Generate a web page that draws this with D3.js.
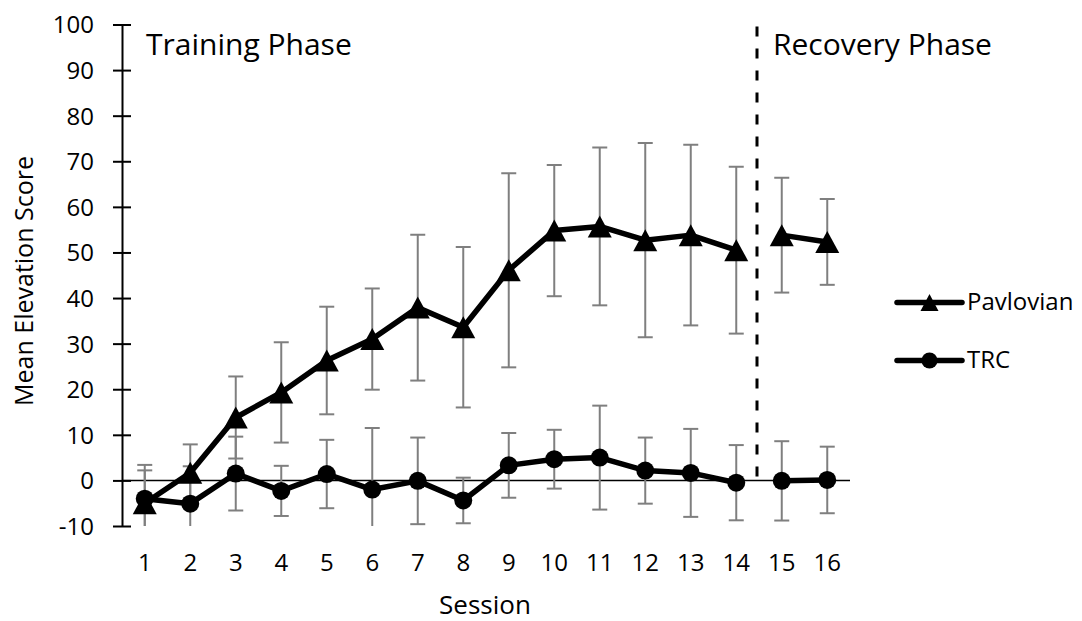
<!DOCTYPE html>
<html>
<head>
<meta charset="utf-8">
<script src="https://cdn.jsdelivr.net/npm/d3@7"></script>
<style>
  body { margin: 0; background: #fff; }
  text { font-family: "Open Sans", sans-serif; fill: #000; }
</style>
</head>
<body>
<div class="chart"></div>
<script>
// values
const sessions = ["1","2","3","4","5","6","7","8","9","10","11","12","13","14","15","16"];
const pavMean = [-5, 1.7, 13.8, 19.3, 26.3, 31, 37.9, 33.6, 46.1, 54.8, 55.7, 52.7, 53.8, 50.5, 53.8, 52.3];
const pavErr  = [7.2, 6.2, 9.0, 11, 11.8, 11.1, 16, 17.6, 21.3, 14.4, 17.3, 21.3, 19.8, 18.3, 12.6, 9.4];
const trcMean = [-4, -5.1, 1.5, -2.3, 1.4, -2, -0.1, -4.4, 3.3, 4.65, 5.0, 2.15, 1.65, -0.5, -0.1, 0.1];
const trcErr  = [7.4, 8.2, 8.1, 5.5, 7.5, 13.5, 9.5, 5.0, 7.1, 6.45, 11.4, 7.25, 9.65, 8.25, 8.7, 7.3];
const yTicks = [-10, 0, 10, 20, 30, 40, 50, 60, 70, 80, 90, 100];
const lastTraining = "14";
const seriesNames = ["Pavlovian", "TRC"];

let width = 1082, height = 621;

let svg = d3.select(".chart").append("svg")
  .attr("width", width)
  .attr("height", height);

let x = d3.scaleBand()
  .domain(sessions)
  .range([122, 850])
  .padding(0);

let y = d3.scaleLinear()
  .domain([-10, 100])
  .range([526, 24.5]);

const cx = s => x(s) + x.bandwidth() / 2;

svg.append("clipPath").attr("id", "plot")
  .append("rect")
  .attr("x", 100).attr("y", y(100))
  .attr("width", 760).attr("height", y(-10) - y(100));

// zero line (x axis)
svg.append("line")
  .attr("x1", x.range()[0]).attr("x2", x.range()[1])
  .attr("y1", y(0)).attr("y2", y(0))
  .attr("stroke", "#000").attr("stroke-width", 1.5);

// y axis with crossing ticks
let yAxis = svg.append("g")
  .attr("transform", "translate(122,0)")
  .call(d3.axisLeft(y).tickValues(yTicks).tickFormat(d => String(d)).tickSize(0).tickPadding(28));
yAxis.select(".domain").attr("stroke", "#000").attr("stroke-width", 2);
yAxis.selectAll("text").style("font-size", "24px").attr("dy", "0.35em");
yAxis.selectAll(".tick").append("line")
  .attr("x1", -9).attr("x2", 9)
  .attr("stroke", "#000").attr("stroke-width", 2);

// x tick labels
svg.append("g")
  .selectAll("text")
  .data(sessions)
  .join("text")
  .attr("x", d => cx(d))
  .attr("y", 571)
  .attr("text-anchor", "middle")
  .style("font-size", "24px")
  .text(d => d);

svg.append("text")
  .attr("x", 485).attr("y", 614)
  .attr("text-anchor", "middle")
  .style("font-size", "26px")
  .text("Session");

svg.append("text")
  .attr("transform", "translate(33,281) rotate(-90)")
  .attr("text-anchor", "middle")
  .style("font-size", "25px")
  .text("Mean Elevation Score");

// phase divider
let divX = x(lastTraining) + x.bandwidth() - 2;
svg.append("line")
  .attr("x1", divX).attr("x2", divX)
  .attr("y1", y(100) + 2).attr("y2", y(0) - 3)
  .attr("stroke", "#000").attr("stroke-width", 3)
  .attr("stroke-dasharray", "10,12");

svg.append("text").attr("x", 146).attr("y", 55)
  .style("font-size", "30px").text("Training Phase");
svg.append("text").attr("x", 773).attr("y", 55)
  .style("font-size", "30px").text("Recovery Phase");

function series(means, errs) {
  return sessions.map((s, i) => ({ s: s, v: means[i], e: errs[i], train: +s <= +lastTraining }));
}
let pav = series(pavMean, pavErr);
let trc = series(trcMean, trcErr);

function errorBars(data) {
  let g = svg.append("g").attr("clip-path", "url(#plot)")
    .attr("stroke", "#7f7f7f").attr("stroke-width", 2);
  g.selectAll(".v").data(data).join("line")
    .attr("x1", d => cx(d.s)).attr("x2", d => cx(d.s))
    .attr("y1", d => y(d.v + d.e)).attr("y2", d => y(d.v - d.e));
  g.selectAll(".t").data(data).join("line")
    .attr("x1", d => cx(d.s) - 7.5).attr("x2", d => cx(d.s) + 7.5)
    .attr("y1", d => y(d.v + d.e)).attr("y2", d => y(d.v + d.e));
  g.selectAll(".b").data(data).join("line")
    .attr("x1", d => cx(d.s) - 7.5).attr("x2", d => cx(d.s) + 7.5)
    .attr("y1", d => y(d.v - d.e)).attr("y2", d => y(d.v - d.e));
}

let line = d3.line().x(d => cx(d.s)).y(d => y(d.v));

function drawLine(data) {
  [data.filter(d => d.train), data.filter(d => !d.train)].forEach(seg => {
    svg.append("path")
      .datum(seg)
      .attr("d", line)
      .attr("fill", "none")
      .attr("stroke", "#000")
      .attr("stroke-width", 5.5)
      .attr("stroke-linejoin", "round");
  });
}

function triangle(w, h) {
  return "M0," + (-h / 2) + "L" + (w / 2) + "," + (h / 2) + "L" + (-w / 2) + "," + (h / 2) + "Z";
}

errorBars(pav);
errorBars(trc);
drawLine(pav);
drawLine(trc);

svg.append("g").selectAll("path")
  .data(pav).join("path")
  .attr("transform", d => "translate(" + cx(d.s) + "," + y(d.v) + ")")
  .attr("d", triangle(24, 22))
  .attr("fill", "#000");

svg.append("g").selectAll("circle")
  .data(trc).join("circle")
  .attr("cx", d => cx(d.s)).attr("cy", d => y(d.v))
  .attr("r", 9)
  .attr("fill", "#000");

// legend
let legend = svg.append("g");
let legY = [302.5, 360.5];
seriesNames.forEach((name, i) => {
  legend.append("line")
    .attr("x1", 897).attr("x2", 962)
    .attr("y1", legY[i]).attr("y2", legY[i])
    .attr("stroke", "#000").attr("stroke-width", 5.5)
    .attr("stroke-linecap", "round");
  if (i == 0) {
    legend.append("path")
      .attr("transform", "translate(929.5," + legY[i] + ")")
      .attr("d", triangle(18, 17))
      .attr("fill", "#000");
  } else {
    legend.append("circle")
      .attr("cx", 929.5).attr("cy", legY[i]).attr("r", 8)
      .attr("fill", "#000");
  }
  legend.append("text")
    .attr("x", 967).attr("y", legY[i] + 7)
    .style("font-size", "24px")
    .text(name);
});
</script>
</body>
</html>
